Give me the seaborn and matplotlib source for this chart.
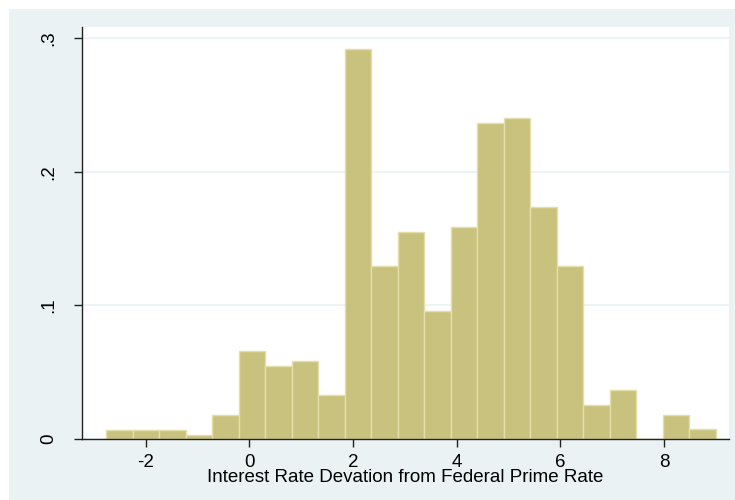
import matplotlib
matplotlib.use("Agg")
import matplotlib.pyplot as plt
import matplotlib.patches as mpatches
import numpy as np
import pandas as pd
import seaborn as sns

# ---- data ----
bin_start = -2.756
bin_width = 0.511
densities = [0.0070, 0.0070, 0.0070, 0.0032, 0.0180, 0.0660, 0.0550, 0.0585,
             0.0327, 0.2916, 0.1292, 0.1549, 0.0957, 0.1584, 0.2361, 0.2399,
             0.1734, 0.1292, 0.0255, 0.0367, 0.0000, 0.0180, 0.0072]
x_ticks = [-2, 0, 2, 4, 6, 8]
y_ticks = [0, 0.1, 0.2, 0.3]
y_tick_labels = ["0", ".1", ".2", ".3"]
x_label = "Interest Rate Devation from Federal Prime Rate"

n_bins = len(densities)
bin_end = bin_start + bin_width * n_bins
centers = bin_start + bin_width * (np.arange(n_bins) + 0.5)
df = pd.DataFrame({"x": centers, "w": densities})

sns.set_theme(style="white")
plt.rcParams["font.family"] = ["Liberation Sans", "DejaVu Sans"]

W, H = 735, 500
fig = plt.figure(figsize=(W / 100, H / 100), dpi=100)
fig.patch.set_facecolor("white")
# Stata-like outer panel
fig.patches.append(mpatches.Rectangle((9 / W, 0), 1 - 9 / W, (H - 9) / H,
                                      transform=fig.transFigure,
                                      facecolor="#EAF2F3", edgecolor="none",
                                      zorder=-10))

left, right, top, bottom = 82.3, 728.5, 27, 439
ax = fig.add_axes([left / W, (H - bottom) / H, (right - left) / W, (bottom - top) / H])
ax.set_facecolor("white")

sns.histplot(data=df, x="x", weights="w", binwidth=bin_width,
             binrange=(bin_start, bin_end), stat="count",
             color="#C9C27E", edgecolor="#E4DEA9", linewidth=1.0, alpha=1,
             ax=ax, zorder=2)

ax.set_xlim(-3.219, 9.244)
ax.set_ylim(0, 0.3083)
ax.set_xticks(x_ticks)
ax.set_xticklabels([str(t) for t in x_ticks])
ax.set_yticks(y_ticks)
ax.set_yticklabels(y_tick_labels, rotation=90, va="center")

ax.grid(axis="y", color="#EAF2F3", linewidth=1.2, zorder=0)
ax.grid(axis="x", visible=False)
ax.set_axisbelow(True)

for s in ["top", "right"]:
    ax.spines[s].set_visible(False)
for s in ["left", "bottom"]:
    ax.spines[s].set_color("#222222")
    ax.spines[s].set_linewidth(1.0)

ax.tick_params(axis="both", which="major", direction="out", length=6,
               width=1.0, color="#222222", labelsize=13.5, labelcolor="black",
               left=True, bottom=True)
ax.tick_params(axis="y", pad=12)
ax.tick_params(axis="x", pad=4.5)

ax.set_xlabel(x_label, fontsize=13.5, color="black", labelpad=-1)
ax.set_ylabel("")

fig.savefig("out.png", dpi=100)
